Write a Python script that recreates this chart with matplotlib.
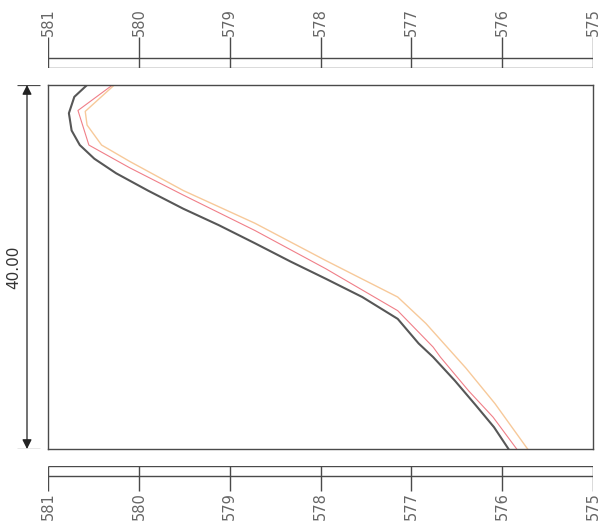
import numpy as np
import matplotlib.pyplot as plt

# Elevation scale (horizontal) and section length (vertical)
elev_ticks = [581, 580, 579, 578, 577, 576, 575]
length = 40.0

# Profile lines: (elevation, distance)
dark_elev = [580.57, 580.71, 580.77, 580.74, 580.65, 580.49, 580.25, 579.90, 579.51, 579.12,
             578.72, 578.33, 577.94, 577.54, 577.15, 576.92, 576.76, 576.52, 576.29, 576.09, 575.93]
dark_dist = [40.0, 38.7, 36.9, 35.0, 33.4, 31.9, 30.3, 28.4, 26.4, 24.6,
             22.6, 20.6, 18.7, 16.7, 14.3, 11.6, 10.1, 7.5, 4.8, 2.4, 0.0]

red_elev = [580.29, 580.67, 580.55, 580.10, 579.51, 578.72, 577.94, 577.15,
            576.76, 576.68, 576.37, 576.10, 575.84]
red_dist = [40.0, 37.2, 33.4, 30.9, 27.9, 24.0, 19.8, 15.2,
            11.2, 10.1, 6.4, 3.5, 0.0]

orange_elev = [580.27, 580.59, 580.57, 580.41, 580.10, 579.51, 578.72, 577.94,
               577.15, 576.84, 576.40, 576.08, 575.72]
orange_dist = [40.0, 37.1, 35.6, 33.4, 31.6, 28.4, 24.8, 20.7,
               16.7, 13.8, 8.9, 5.0, 0.0]

W, H = 604, 531
fig = plt.figure(figsize=(W / 100, H / 100), dpi=100)

def box(x0, y0, x1, y1):
    # pixel box (top-left origin) -> figure fraction
    return [x0 / W, 1 - y1 / H, (x1 - x0) / W, (y1 - y0) / H]

frame_col = '#4a4a4a'
text_col = '#666666'

# main section box
ax = fig.add_axes(box(48, 85, 593, 449))
ax.set_xlim(elev_ticks[0], elev_ticks[-1])
ax.set_ylim(0, length)
ax.set_xticks([])
ax.set_yticks([])
for s in ax.spines.values():
    s.set_color(frame_col)
    s.set_linewidth(1.0)
ax.plot(orange_elev, orange_dist, color='#f7c99a', lw=1.0)
ax.plot(red_elev, red_dist, color='#f07f88', lw=0.8)
ax.plot(dark_elev, dark_dist, color='#575757', lw=1.5)

# top scale bar
top = fig.add_axes(box(48, 8, 593, 68))
top.set_xlim(elev_ticks[0], elev_ticks[-1])
top.set_ylim(0, 60)  # 0 = bottom of bar
top.axis('off')
top.hlines([0, 10], elev_ticks[0], elev_ticks[-1], color=frame_col, lw=1.0)
top.vlines(elev_ticks, 0, 31, color=frame_col, lw=1.0)
for t in elev_ticks:
    top.text(t, 32, str(t), rotation=90, ha='center', va='bottom',
             fontsize=10.5, color=text_col, clip_on=False)

# bottom scale bar
bot = fig.add_axes(box(48, 466, 593, 531))
bot.set_xlim(elev_ticks[0], elev_ticks[-1])
bot.set_ylim(65, 0)  # 0 = top line of bar
bot.axis('off')
bot.hlines([0, 10], elev_ticks[0], elev_ticks[-1], color=frame_col, lw=1.0)
bot.vlines(elev_ticks, 0, 25, color=frame_col, lw=1.0)
for t in elev_ticks:
    bot.text(t, 26, str(t), rotation=90, ha='center', va='top',
             fontsize=10.5, color=text_col, clip_on=False)

# dimension line for section length
dim = fig.add_axes(box(0, 85, 45, 449))
dim.set_xlim(0, 45)
dim.set_ylim(0, length)
dim.axis('off')
dim.hlines([0, length], 17, 40, color=frame_col, lw=0.9)
dim.annotate('', xy=(27, length), xytext=(27, 0),
             arrowprops=dict(arrowstyle='<|-|>', color='#222222', lw=0.9,
                             mutation_scale=14, shrinkA=0, shrinkB=0))
dim.text(14, length / 2, f'{length:.2f}', rotation=90, ha='center', va='center',
         fontsize=11, color='#333333')

fig.savefig('out.png', dpi=100)
